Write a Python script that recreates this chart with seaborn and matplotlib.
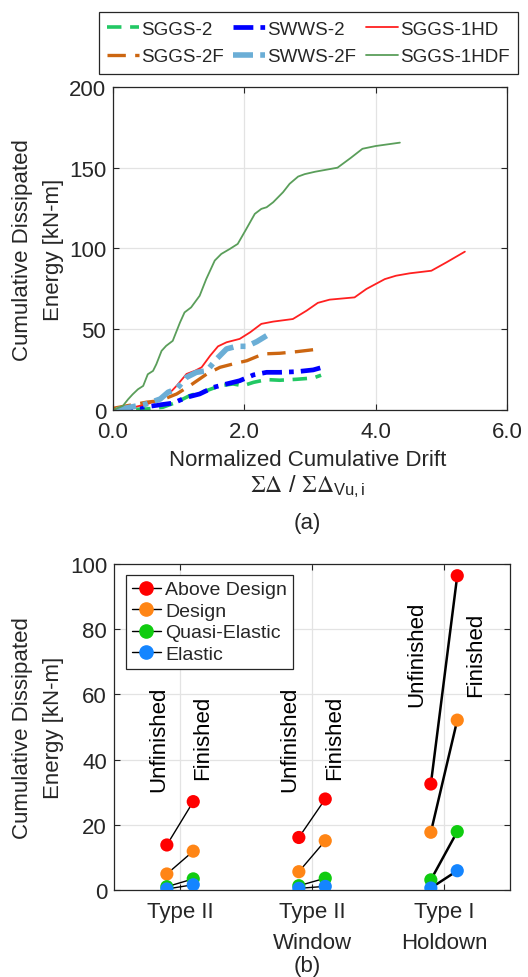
import numpy as np
import pandas as pd
import seaborn as sns
import matplotlib.pyplot as plt
from matplotlib.lines import Line2D

sns.set_theme(style="ticks")
plt.rcParams['font.family'] = ['Liberation Sans', 'DejaVu Sans']
plt.rcParams['mathtext.fontset'] = 'stix'

# ---------------- data (a) ----------------
sggs2_x = [0, 0.51, 0.76, 0.97, 1.17, 1.43, 1.63, 1.83, 1.98, 2.14, 2.34, 2.54, 2.80, 3.05, 3.17]
sggs2_y = [0, 0.6, 1.7, 4.8, 8.9, 12.0, 15.0, 16.1, 15.0, 17.1, 18.8, 18.4, 19.0, 19.8, 21.5]

swws2_x = [0, 0.51, 0.92, 1.12, 1.32, 1.53, 1.73, 1.93, 2.14, 2.34, 2.54, 2.80, 3.05, 3.19]
swws2_y = [0, 2.0, 4.3, 7.8, 9.9, 14.0, 16.1, 18.1, 21.7, 23.3, 23.3, 23.7, 24.8, 26.4]

sggs1hd_x = [0, 0.3, 0.55, 0.75, 0.9, 0.97, 1.12, 1.25, 1.35, 1.48, 1.60, 1.73, 1.93, 2.09, 2.26,
             2.44, 2.74, 2.95, 3.12, 3.30, 3.68, 3.86, 4.14, 4.31, 4.52, 4.85, 5.08, 5.36]
sggs1hd_y = [0, 1.5, 4.0, 8.0, 12.0, 15.0, 22.3, 24.3, 26.4, 33.6, 39.4, 41.9, 44.0, 48.1, 53.3,
             54.7, 56.3, 61.5, 66.3, 68.3, 69.7, 74.9, 81.0, 83.1, 84.6, 86.2, 91.4, 98.0]

sggs2f_x = [0, 0.51, 0.72, 0.97, 1.17, 1.43, 1.63, 1.83, 2.04, 2.29, 2.54, 2.80, 3.05, 3.18]
sggs2f_y = [1, 4.8, 5.8, 9.9, 15.0, 22.3, 26.4, 28.5, 30.5, 34.7, 35.1, 36.1, 37.3, 39.4]

swws2f_x = [0.05, 0.51, 0.72, 0.84, 0.97, 1.12, 1.27, 1.43, 1.58, 1.73, 1.88, 2.04, 2.19, 2.34]
swws2f_y = [0, 3.7, 6.8, 11.0, 13.0, 20.2, 23.3, 24.3, 31.6, 37.8, 39.4, 39.4, 42.3, 46.0]

sggs1hdf_x = [0, 0.15, 0.23, 0.30, 0.38, 0.46, 0.53, 0.61, 0.66, 0.74, 0.81, 0.91, 1.02, 1.09, 1.19,
              1.32, 1.42, 1.55, 1.65, 1.78, 1.90, 2.03, 2.16, 2.26, 2.34, 2.44, 2.59, 2.69, 2.82,
              2.92, 3.08, 3.42, 3.62, 3.80, 4.00, 4.37]
sggs1hdf_y = [0, 2.5, 6.6, 9.7, 12.8, 14.9, 22.1, 24.2, 28.3, 36.6, 39.7, 42.8, 54.1, 60.4, 63.5,
              70.7, 81.0, 92.5, 96.6, 99.7, 102.8, 112.0, 121.4, 124.5, 125.5, 128.6, 134.8, 140.0,
              144.5, 146.0, 147.5, 150.0, 156.0, 161.7, 163.4, 165.5]

x_ticks_a = [0, 2, 4, 6]
x_ticklabels_a = ['0.0', '2.0', '4.0', '6.0']
y_ticks_a = [0, 50, 100, 150, 200]

# ---------------- data (b) ----------------
categories = ['Type II', 'Type II\nWindow', 'Type I\nHoldown']
levels = ['Above Design', 'Design', 'Quasi-Elastic', 'Elastic']
unfinished = {
    'Above Design': [13.8, 16.1, 32.5],
    'Design': [4.9, 5.6, 17.7],
    'Quasi-Elastic': [1.0, 1.3, 3.1],
    'Elastic': [0.3, 0.5, 0.6],
}
finished = {
    'Above Design': [27.1, 27.9, 96.4],
    'Design': [11.9, 15.1, 52.1],
    'Quasi-Elastic': [3.4, 3.6, 17.9],
    'Elastic': [1.6, 1.1, 5.9],
}
y_ticks_b = [0, 20, 40, 60, 80, 100]

# ---------------- figure ----------------
fig = plt.figure(figsize=(5.28, 9.78), dpi=100)
FS = 16
dark = '#262626'

ax1 = fig.add_axes([0.214, 0.5798, 0.746, 0.3303])

series = [
    ('SGGS-2', sggs2_x, sggs2_y, '#22C864', 2.6, (0, (4.0, 2.4))),
    ('SWWS-2', swws2_x, swws2_y, '#0000FF', 3.4, (0, (4.2, 1.5, 1.0, 1.5))),
    ('SGGS-1HD', sggs1hd_x, sggs1hd_y, '#FF2020', 1.3, '-'),
    ('SGGS-2F', sggs2f_x, sggs2f_y, '#CC6611', 2.4, (0, (5.5, 2.8))),
    ('SWWS-2F', swws2f_x, swws2f_y, '#6BAED6', 4.0, (0, (3.6, 1.3, 0.9, 1.3))),
    ('SGGS-1HDF', sggs1hdf_x, sggs1hdf_y, '#5A9E5A', 1.3, '-'),
]
for name, xs, ys, col, lw, ls in series:
    sns.lineplot(x=xs, y=ys, ax=ax1, color=col, linewidth=lw, linestyle=ls,
                 label=name, estimator=None, sort=False, errorbar=None, legend=False)

ax1.set_xlim(0, 6)
ax1.set_ylim(0, 200)
ax1.set_xticks(x_ticks_a)
ax1.set_xticklabels(x_ticklabels_a)
ax1.set_yticks(y_ticks_a)
ax1.set_xlabel('')
ax1.set_ylabel('')


def style_axes(ax):
    ax.grid(True, color='#E3E3E3', linewidth=0.9)
    ax.set_axisbelow(True)
    for sp in ax.spines.values():
        sp.set_visible(True)
        sp.set_color(dark)
        sp.set_linewidth(0.9)
    ax.tick_params(direction='in', length=4, width=0.8, colors=dark, labelsize=FS,
                   top=True, right=True, labelcolor='#262626')
    ax.tick_params(axis='x', pad=8)
    ax.tick_params(axis='y', pad=5)


style_axes(ax1)

handles, labels = ax1.get_legend_handles_labels()
order = ['SGGS-2', 'SGGS-2F', 'SWWS-2', 'SWWS-2F', 'SGGS-1HD', 'SGGS-1HDF']
hmap = dict(zip(labels, handles))
leg1 = fig.legend([hmap[k] for k in order], order, ncol=3, loc='center',
                  bbox_to_anchor=(0.584, 0.955), fontsize=13.5, frameon=True,
                  fancybox=False, edgecolor=dark, framealpha=1, handlelength=1.7,
                  handletextpad=0.12, columnspacing=0.5, labelspacing=0.55,
                  borderpad=0.45, borderaxespad=0)
leg1.get_frame().set_linewidth(0.9)

fig.text(0.072, 1 - 250 / 978, 'Cumulative Dissipated\nEnergy [kN-m]', rotation=90,
         ha='center', va='center', multialignment='center', fontsize=FS, color=dark,
         linespacing=1.65)
fig.text(0.582, 1 - 461 / 978, 'Normalized Cumulative Drift', ha='center', va='center',
         fontsize=FS, color=dark)
fig.text(0.582, 1 - 487 / 978, r'$\Sigma\Delta$ / $\Sigma\Delta_{\mathregular{Vu,i}}$',
         ha='center', va='center', fontsize=FS + 1, color=dark)
fig.text(0.582, 1 - 524 / 978, '(a)', ha='center', va='center', fontsize=FS, color=dark)

# ---------------- (b) ----------------
ax2 = fig.add_axes([0.216, 0.089, 0.750, 0.3333])
palette = {'Above Design': '#FF0000', 'Design': '#FF8515', 'Quasi-Elastic': '#10CC10',
           'Elastic': '#1485FF'}
offset = 0.1
rows = []
for lev in levels:
    for i, cat in enumerate(categories):
        rows.append(dict(category=cat, level=lev, state='Unfinished',
                         xpos=i + 1 - offset, value=unfinished[lev][i]))
        rows.append(dict(category=cat, level=lev, state='Finished',
                         xpos=i + 1 + offset, value=finished[lev][i]))
df = pd.DataFrame(rows)

line_w = [1.0, 1.0, 1.8]
for lev in levels:
    for i, cat in enumerate(categories):
        sub = df[(df.level == lev) & (df.category == cat)].sort_values('xpos')
        sns.lineplot(data=sub, x='xpos', y='value', ax=ax2, color='black',
                     linewidth=line_w[i], estimator=None, sort=False, errorbar=None,
                     legend=False, zorder=2)

sns.scatterplot(data=df, x='xpos', y='value', hue='level', palette=palette,
                hue_order=levels[::-1], s=90, edgecolor='none', linewidth=0,
                ax=ax2, legend=False, zorder=3)

ax2.set_xlim(0.5, 3.5)
ax2.set_ylim(0, 100)
ax2.set_xticks([1, 2, 3])
ax2.set_xticklabels(categories, linespacing=1.6)
ax2.set_yticks(y_ticks_b)
ax2.set_xlabel('')
ax2.set_ylabel('')
style_axes(ax2)

text_pos = [(-0.16, 30.5, 0.17, 34.0), (-0.17, 30.5, 0.17, 34.0), (-0.21, 56.4, 0.24, 59.5)]
for i, (du, yu, dfn, yf) in enumerate(text_pos):
    ax2.text(i + 1 + du, yu, 'Unfinished', rotation=90, ha='center', va='bottom',
             fontsize=FS, color='black')
    ax2.text(i + 1 + dfn, yf, 'Finished', rotation=90, ha='center', va='bottom',
             fontsize=FS, color='black')

leg_handles = [Line2D([0], [0], color='black', lw=1.0, marker='o', markersize=9.5,
                      markerfacecolor=palette[l], markeredgecolor=palette[l]) for l in levels]
leg2 = ax2.legend(leg_handles, levels, loc='upper left',
                  bbox_to_anchor=(126 / 528, 1 - 576 / 978), bbox_transform=fig.transFigure,
                  fontsize=14, frameon=True, fancybox=False, edgecolor=dark, framealpha=1,
                  handlelength=1.5, handletextpad=0.2, labelspacing=0.2, borderpad=0.3,
                  borderaxespad=0, numpoints=1)
leg2.get_frame().set_linewidth(0.9)

fig.text(0.072, 1 - 728 / 978, 'Cumulative Dissipated\nEnergy [kN-m]', rotation=90,
         ha='center', va='center', multialignment='center', fontsize=FS, color=dark,
         linespacing=1.65)
fig.text(0.582, 1 - 967 / 978, '(b)', ha='center', va='center', fontsize=FS, color=dark)

fig.savefig('out.png', dpi=100)
